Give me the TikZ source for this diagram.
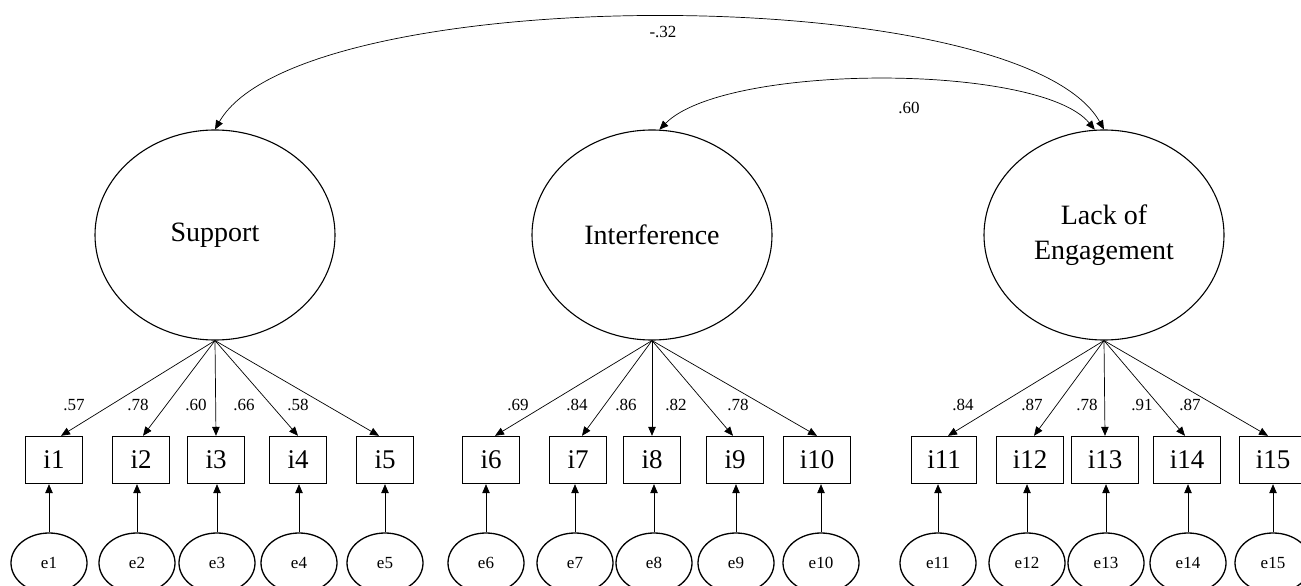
\documentclass[tikz,border=0pt]{standalone}
\usepackage{fontspec}
\setmainfont{Liberation Serif}
\usetikzlibrary{arrows.meta,shapes.geometric}

\begin{document}
\begin{tikzpicture}[x=1pt, y=-1pt,
  latent/.style={draw, ellipse, line width=1.1pt, minimum width=240pt, minimum height=210pt, inner sep=0pt, align=center, font=\fontsize{28}{35}\selectfont},
  item/.style={draw, rectangle, line width=1.4pt, minimum width=57pt, minimum height=47pt, inner xsep=16pt, font=\fontsize{27}{32}\selectfont},
  err/.style={draw, ellipse, line width=1.3pt, minimum width=76pt, minimum height=60pt, inner sep=0pt, font=\fontsize{17}{20}\selectfont},
  lab/.style={inner sep=0pt, font=\fontsize{17}{20}\selectfont},
  arr/.style={-{Triangle[length=9pt,width=7.5pt]}, line width=0.7pt},
  cov/.style={{Triangle[length=9pt,width=7.5pt]}-{Triangle[length=9pt,width=7.5pt]}, line width=0.7pt}]
  \useasboundingbox (0,0) rectangle (1301,586);

  % factors
  \node[latent] (Support) at (215,235) {Support};
  \node[latent] (Interference) at (652,235) {Interference};
  \node[latent] (Engagement) at (1104,235) {Lack of\\Engagement};

  % covariances
  \draw[cov] (Support.north) .. controls (300,-20) and (1020,-20) .. (Engagement.north);
  \draw[cov] (Interference.86) .. controls (725,63) and (1040,63) .. (Engagement.95);
  \node[lab] (r13) at (663,32) {-.32};
  \node[lab] (r23) at (909,108) {.60};

  % items
  \node[item] (i1) at (54,460) {i1};     \node[err] (e1) at (49,563) {e1};
  \node[item] (i2) at (141,460) {i2};    \node[err] (e2) at (137,563) {e2};
  \node[item] (i3) at (216,460) {i3};    \node[err] (e3) at (217,563) {e3};
  \node[item] (i4) at (298,460) {i4};    \node[err] (e4) at (299,563) {e4};
  \node[item] (i5) at (385,460) {i5};    \node[err] (e5) at (385,563) {e5};
  \node[item] (i6) at (491,460) {i6};    \node[err] (e6) at (486,563) {e6};
  \node[item] (i7) at (578,460) {i7};    \node[err] (e7) at (575,563) {e7};
  \node[item] (i8) at (652,460) {i8};    \node[err] (e8) at (654,563) {e8};
  \node[item] (i9) at (735,460) {i9};    \node[err] (e9) at (736,563) {e9};
  \node[item] (i10) at (817,460) {i10};  \node[err] (e10) at (821,563) {e10};
  \node[item] (i11) at (944,460) {i11};  \node[err] (e11) at (938,563) {e11};
  \node[item] (i12) at (1030,460) {i12}; \node[err] (e12) at (1027,563) {e12};
  \node[item] (i13) at (1105,460) {i13}; \node[err] (e13) at (1106,563) {e13};
  \node[item] (i14) at (1187,460) {i14}; \node[err] (e14) at (1188,563) {e14};
  \node[item] (i15) at (1273,460) {i15}; \node[err] (e15) at (1273,563) {e15};

  % loadings
  \draw[arr] (Support.south) -- ([xshift=7pt]i1.north);   \node[lab] (l1) at (74,405) {.57};
  \draw[arr] (Support.south) -- ([xshift=2pt]i2.north);   \node[lab] (l2) at (138,405) {.78};
  \draw[arr] (Support.south) -- (i3.north);               \node[lab] (l3) at (196,405) {.60};
  \draw[arr] (Support.south) -- (i4.north);               \node[lab] (l4) at (244,405) {.66};
  \draw[arr] (Support.south) -- ([xshift=-6pt]i5.north);  \node[lab] (l5) at (298,405) {.58};
  \draw[arr] (Interference.south) -- ([xshift=4pt]i6.north);  \node[lab] (l6) at (518,405) {.69};
  \draw[arr] (Interference.south) -- ([xshift=4pt]i7.north);  \node[lab] (l7) at (577,405) {.84};
  \draw[arr] (Interference.south) -- (i8.north);              \node[lab] (l8) at (626,405) {.86};
  \draw[arr] (Interference.south) -- ([xshift=-2pt]i9.north); \node[lab] (l9) at (676,405) {.82};
  \draw[arr] (Interference.south) -- (i10.north);             \node[lab] (l10) at (738,405) {.78};
  \draw[arr] (Engagement.south) -- ([xshift=4pt]i11.north);  \node[lab] (l11) at (963,405) {.84};
  \draw[arr] (Engagement.south) -- ([xshift=4pt]i12.north);  \node[lab] (l12) at (1032,405) {.87};
  \draw[arr] (Engagement.south) -- (i13.north);              \node[lab] (l13) at (1087,405) {.78};
  \draw[arr] (Engagement.south) -- ([xshift=-2pt]i14.north); \node[lab] (l14) at (1142,405) {.91};
  \draw[arr] (Engagement.south) -- ([xshift=-5pt]i15.north); \node[lab] (l15) at (1190,405) {.87};

  % errors
  \draw[arr] (e1.north) -- (e1.north |- i1.south);   \draw[arr] (e2.north) -- (e2.north |- i2.south);
  \draw[arr] (e3.north) -- (e3.north |- i3.south);   \draw[arr] (e4.north) -- (e4.north |- i4.south);
  \draw[arr] (e5.north) -- (e5.north |- i5.south);   \draw[arr] (e6.north) -- (e6.north |- i6.south);
  \draw[arr] (e7.north) -- (e7.north |- i7.south);   \draw[arr] (e8.north) -- (e8.north |- i8.south);
  \draw[arr] (e9.north) -- (e9.north |- i9.south);   \draw[arr] (e10.north) -- (e10.north |- i10.south);
  \draw[arr] (e11.north) -- (e11.north |- i11.south); \draw[arr] (e12.north) -- (e12.north |- i12.south);
  \draw[arr] (e13.north) -- (e13.north |- i13.south); \draw[arr] (e14.north) -- (e14.north |- i14.south);
  \draw[arr] (e15.north) -- (e15.north |- i15.south);
\end{tikzpicture}
\end{document}
